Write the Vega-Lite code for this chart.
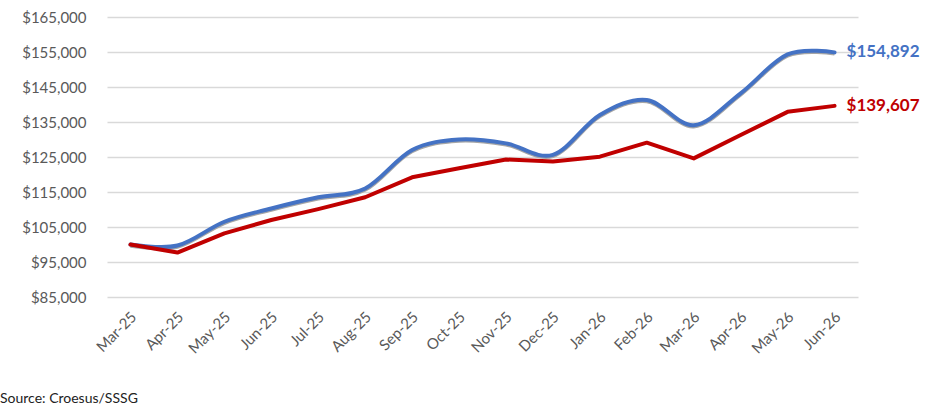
{
  "$schema": "https://vega.github.io/schema/vega-lite/v6.json",
  "width": 751,
  "height": 280,
  "autosize": "none",
  "padding": {"left": 107, "top": 17, "right": 93, "bottom": 116},
  "background": "white",
  "config": {
    "view": {"stroke": null},
    "font": "Lato"
  },
  "title": {
    "text": "Source: Croesus/SSSG",
    "orient": "bottom",
    "anchor": "start",
    "frame": "group",
    "dx": -107,
    "offset": 36,
    "font": "Lato",
    "fontSize": 14,
    "fontWeight": "normal",
    "color": "#222222"
  },
  "data": {
    "values": [
      {"month": "Mar-25", "series": "Portfolio", "value": 100000},
      {"month": "Apr-25", "series": "Portfolio", "value": 99700},
      {"month": "May-25", "series": "Portfolio", "value": 106500},
      {"month": "Jun-25", "series": "Portfolio", "value": 110300},
      {"month": "Jul-25", "series": "Portfolio", "value": 113500},
      {"month": "Aug-25", "series": "Portfolio", "value": 116000},
      {"month": "Sep-25", "series": "Portfolio", "value": 127000},
      {"month": "Oct-25", "series": "Portfolio", "value": 130000},
      {"month": "Nov-25", "series": "Portfolio", "value": 128900},
      {"month": "Dec-25", "series": "Portfolio", "value": 125600},
      {"month": "Jan-26", "series": "Portfolio", "value": 137000},
      {"month": "Feb-26", "series": "Portfolio", "value": 141300},
      {"month": "Mar-26", "series": "Portfolio", "value": 134100},
      {"month": "Apr-26", "series": "Portfolio", "value": 143200},
      {"month": "May-26", "series": "Portfolio", "value": 154300},
      {"month": "Jun-26", "series": "Portfolio", "value": 154892},
      {"month": "Mar-25", "series": "Benchmark", "value": 100000},
      {"month": "Apr-25", "series": "Benchmark", "value": 97700},
      {"month": "May-25", "series": "Benchmark", "value": 103200},
      {"month": "Jun-25", "series": "Benchmark", "value": 107000},
      {"month": "Jul-25", "series": "Benchmark", "value": 110100},
      {"month": "Aug-25", "series": "Benchmark", "value": 113500},
      {"month": "Sep-25", "series": "Benchmark", "value": 119200},
      {"month": "Oct-25", "series": "Benchmark", "value": 121800},
      {"month": "Nov-25", "series": "Benchmark", "value": 124300},
      {"month": "Dec-25", "series": "Benchmark", "value": 123700},
      {"month": "Jan-26", "series": "Benchmark", "value": 125100},
      {"month": "Feb-26", "series": "Benchmark", "value": 129100},
      {"month": "Mar-26", "series": "Benchmark", "value": 124600},
      {"month": "Apr-26", "series": "Benchmark", "value": 131300},
      {"month": "May-26", "series": "Benchmark", "value": 137900},
      {"month": "Jun-26", "series": "Benchmark", "value": 139607}
    ]
  },
  "encoding": {
    "x": {
      "field": "month",
      "type": "ordinal",
      "sort": null,
      "scale": {"type": "point", "padding": 0.5},
      "title": null,
      "axis": {
        "labelAngle": -45,
        "labelAlign": "right",
        "labelBaseline": "middle",
        "labelFont": "Lato",
        "labelFontSize": 15,
        "labelColor": "#595959",
        "labelPadding": 17,
        "labelOffset": 3,
        "domain": false,
        "ticks": false,
        "grid": false
      }
    },
    "y": {
      "field": "value",
      "type": "quantitative",
      "title": null,
      "scale": {"domain": [85000, 165000], "nice": false, "zero": false},
      "axis": {
        "values": [85000, 95000, 105000, 115000, 125000, 135000, 145000, 155000, 165000],
        "format": "$,.0f",
        "labelFont": "Lato",
        "labelFontSize": 15,
        "labelColor": "#595959",
        "labelPadding": 21,
        "domain": false,
        "ticks": false,
        "gridColor": "#d9d9d9",
        "gridWidth": 1.5
      }
    }
  },
  "layer": [
    {
      "transform": [{"filter": "datum.series === 'Portfolio'"}],
      "mark": {"type": "line", "interpolate": "cardinal", "stroke": "#a6a6a6", "strokeWidth": 3.5, "yOffset": 1.5}
    },
    {
      "transform": [{"filter": "datum.series === 'Portfolio'"}],
      "mark": {"type": "line", "interpolate": "cardinal", "stroke": "#4472C4", "strokeWidth": 4, "strokeCap": "round"}
    },
    {
      "transform": [{"filter": "datum.series === 'Benchmark'"}],
      "mark": {"type": "line", "stroke": "#C00000", "strokeWidth": 4, "strokeCap": "round", "strokeJoin": "round"}
    },
    {
      "transform": [{"filter": "datum.month === 'Jun-26'"}],
      "mark": {"type": "text", "align": "left", "dx": 12, "font": "Lato", "fontSize": 17, "fontWeight": "bold"},
      "encoding": {
        "text": {"field": "value", "type": "quantitative", "format": "$,.0f"},
        "color": {
          "field": "series",
          "type": "nominal",
          "scale": {"domain": ["Portfolio", "Benchmark"], "range": ["#4472C4", "#C00000"]},
          "legend": null
        }
      }
    }
  ]
}
